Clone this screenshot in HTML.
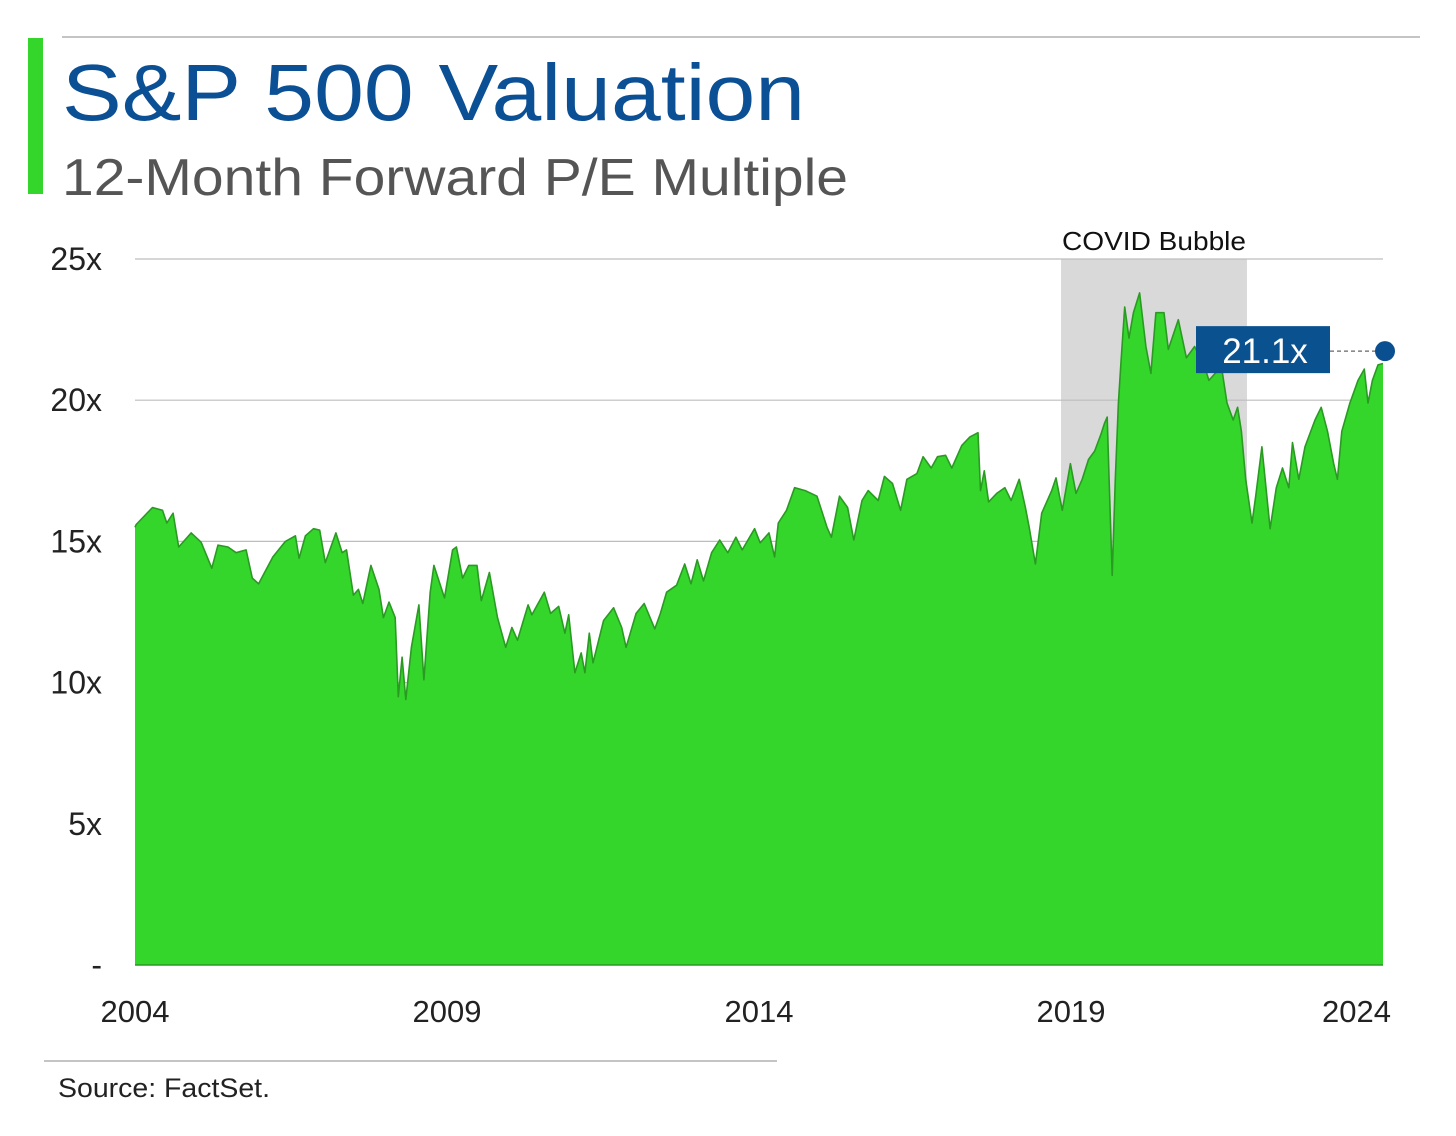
<!DOCTYPE html>
<html><head><meta charset="utf-8"><style>
html,body{margin:0;padding:0;background:#fff;}
svg{display:block;font-family:"Liberation Sans",sans-serif;}
</style></head><body>
<svg id="chart" width="1456" height="1136" viewBox="0 0 1456 1136">
<rect x="0" y="0" width="1456" height="1136" fill="#fff"/>
<line x1="62" y1="37" x2="1420" y2="37" stroke="#b0b0b0" stroke-width="1.5"/>
<rect x="28" y="38" width="15" height="156" fill="#34d62c"/>
<text x="62" y="120" font-size="80" fill="#0b4f94" textLength="743" lengthAdjust="spacingAndGlyphs">S&amp;P 500 Valuation</text>
<text x="62" y="195" font-size="52" fill="#555" textLength="786" lengthAdjust="spacingAndGlyphs">12-Month Forward P/E Multiple</text>
<g id="shade"></g>
<g id="grid"></g>
<g id="area"></g>
<g id="yaxis"></g>
<g id="xaxis"></g>
<g id="callout"></g>
<line x1="44" y1="1061" x2="777" y2="1061" stroke="#b0b0b0" stroke-width="1.5"/>
<text x="58" y="1097" font-size="27" fill="#222" textLength="212" lengthAdjust="spacingAndGlyphs">Source: FactSet.</text>
</svg>
<script>
const yTicks = [0, 5, 10, 15, 20, 25];
const yTickLabels = ["-", "5x", "10x", "15x", "20x", "25x"];
const xTicks = [2004, 2009, 2014, 2019, 2024];
const xTickLabels = ["2004", "2009", "2014", "2019", "2024"];
const shadeRange = [2018.84, 2021.82];
const shadeLabel = "COVID Bubble";
const latestValue = 21.1;
const latestLabel = "21.1x";
const dates = [2004.0,2004.02,2004.28,2004.44,2004.51,2004.61,2004.70,2004.90,2005.06,2005.23,2005.33,2005.49,2005.62,2005.78,2005.88,2005.98,2006.21,2006.41,2006.57,2006.63,2006.73,2006.86,2006.96,2007.05,2007.22,2007.32,2007.39,2007.50,2007.58,2007.65,2007.78,2007.91,2007.98,2008.07,2008.17,2008.22,2008.28,2008.34,2008.43,2008.55,2008.63,2008.73,2008.79,2008.96,2009.09,2009.15,2009.25,2009.35,2009.48,2009.55,2009.68,2009.81,2009.94,2010.04,2010.13,2010.30,2010.36,2010.56,2010.66,2010.79,2010.89,2010.95,2011.05,2011.15,2011.21,2011.28,2011.34,2011.51,2011.67,2011.80,2011.87,2012.03,2012.16,2012.33,2012.42,2012.52,2012.68,2012.81,2012.91,2013.01,2013.11,2013.24,2013.37,2013.50,2013.63,2013.73,2013.93,2014.02,2014.16,2014.25,2014.31,2014.44,2014.57,2014.74,2014.93,2015.09,2015.16,2015.29,2015.42,2015.52,2015.65,2015.75,2015.91,2016.01,2016.14,2016.27,2016.37,2016.53,2016.63,2016.76,2016.86,2016.99,2017.09,2017.25,2017.38,2017.51,2017.55,2017.61,2017.68,2017.81,2017.94,2018.04,2018.17,2018.27,2018.33,2018.43,2018.53,2018.69,2018.76,2018.86,2018.99,2019.08,2019.18,2019.28,2019.38,2019.48,2019.54,2019.58,2019.61,2019.66,2019.71,2019.76,2019.80,2019.86,2019.93,2020.00,2020.10,2020.20,2020.28,2020.36,2020.49,2020.56,2020.72,2020.85,2020.98,2021.14,2021.21,2021.41,2021.50,2021.60,2021.67,2021.73,2021.80,2021.90,2021.96,2022.06,2022.19,2022.29,2022.39,2022.49,2022.55,2022.65,2022.75,2022.91,2023.01,2023.11,2023.21,2023.27,2023.34,2023.47,2023.60,2023.70,2023.76,2023.83,2023.92,2024.0];
const values = [15.5,15.6,16.2,16.1,15.65,16.0,14.8,15.3,14.97,14.05,14.87,14.8,14.6,14.7,13.7,13.5,14.45,15.0,15.2,14.4,15.2,15.45,15.4,14.25,15.3,14.6,14.7,13.1,13.3,12.8,14.15,13.3,12.3,12.85,12.3,9.5,10.9,9.4,11.25,12.75,10.1,13.2,14.15,13.0,14.7,14.8,13.7,14.15,14.15,12.9,13.9,12.3,11.25,11.95,11.5,12.75,12.4,13.2,12.45,12.7,11.75,12.4,10.35,11.05,10.35,11.75,10.7,12.2,12.65,11.95,11.25,12.45,12.8,11.9,12.45,13.2,13.45,14.2,13.5,14.35,13.6,14.6,15.05,14.6,15.15,14.7,15.45,14.95,15.3,14.45,15.65,16.1,16.9,16.8,16.6,15.5,15.15,16.6,16.2,15.05,16.45,16.8,16.45,17.3,17.05,16.1,17.2,17.4,18.0,17.6,18.0,18.05,17.6,18.4,18.7,18.85,16.8,17.5,16.4,16.7,16.9,16.45,17.2,16.2,15.5,14.2,16.0,16.8,17.25,16.1,17.75,16.7,17.2,17.9,18.2,18.8,19.2,19.4,17.2,13.8,17.2,19.9,21.3,23.3,22.2,23.1,23.8,21.9,20.95,23.1,23.1,21.8,22.85,21.5,21.9,21.2,20.7,21.2,19.9,19.3,19.75,18.9,17.2,15.65,16.6,18.35,15.45,16.9,17.6,16.9,18.5,17.2,18.35,19.3,19.75,18.9,17.75,17.2,18.9,19.9,20.7,21.1,19.9,20.7,21.25,21.3];

const NS = "http://www.w3.org/2000/svg";
const X0 = 135, X1 = 1383, Y0 = 965, Y1 = 259;
const xScale = t => X0 + (t - 2004) / 20 * (X1 - X0);
const yScale = v => Y0 - v / 25 * (Y0 - Y1);
function mk(tag, attrs, parent) {
  const el = document.createElementNS(NS, tag);
  for (const k in attrs) el.setAttribute(k, attrs[k]);
  parent.appendChild(el);
  return el;
}
const gShade = document.getElementById('shade');
const gGrid = document.getElementById('grid');
const gArea = document.getElementById('area');
const gY = document.getElementById('yaxis');
const gX = document.getElementById('xaxis');
const gC = document.getElementById('callout');

const sx0 = xScale(shadeRange[0]), sx1 = xScale(shadeRange[1]);
const sh = mk('rect', {x: sx0, y: Y1, width: sx1 - sx0, height: Y0 - Y1, fill: '#d9d9d9'}, gShade);


const st = mk('text', {x: sx0 + 1, y: 250, 'font-size': 26, fill: '#111', textLength: 184, lengthAdjust: 'spacingAndGlyphs'}, gShade);
st.textContent = shadeLabel;



yTicks.forEach((v, i) => {
  const y = yScale(v);
  if (v > 0) {
    const gl = mk('line', {x1: X0, x2: X1, y1: y, y2: y, stroke: '#bdbdbd', 'stroke-width': 1.2}, gGrid);
    
    
  }
  const t = mk('text', {x: 102, y: y + 11, 'font-size': 32, fill: '#222', 'text-anchor': 'end'}, gY);
  t.textContent = yTickLabels[i];
  
  
});

let d = 'M' + xScale(dates[0]) + ',' + Y0;
let ld = '';
dates.forEach((t, i) => {
  d += ' L' + xScale(t).toFixed(1) + ',' + yScale(values[i]).toFixed(1);
  ld += (i ? ' L' : 'M') + xScale(t).toFixed(1) + ',' + yScale(values[i]).toFixed(1);
});
d += ' L' + xScale(dates[dates.length - 1]) + ',' + Y0 + ' Z';
const area = mk('path', {d: d, fill: '#34d62c'}, gArea);


const line = mk('path', {d: ld, fill: 'none', stroke: '#2a9a22', 'stroke-width': 1.6, 'stroke-linejoin': 'round'}, gArea);


const base = mk('line', {x1: X0, x2: X1, y1: Y0, y2: Y0, stroke: '#2a9a22', 'stroke-width': 1.5}, gArea);



xTicks.forEach((t, i) => {
  let x = xScale(t);
  let anchor = 'middle';
  if (i === xTicks.length - 1) { x = 1391; anchor = 'end'; }
  const tx = mk('text', {x: x, y: 1022, 'font-size': 31, fill: '#222', 'text-anchor': anchor}, gX);
  tx.textContent = xTickLabels[i];
  
  
});

const dotX = xScale(dates[dates.length - 1]) + 2;
const dotY = yScale(latestValue) - 18;
const dl = mk('line', {x1: 1330, x2: dotX, y1: dotY, y2: dotY, stroke: '#666', 'stroke-width': 1.3, 'stroke-dasharray': '4,3'}, gC);


const box = mk('rect', {x: 1196, y: dotY - 25, width: 134, height: 47, fill: '#0a5190'}, gC);


const bt = mk('text', {x: 1265, y: dotY + 12, 'font-size': 35, fill: '#fff', 'text-anchor': 'middle'}, gC);
bt.textContent = latestLabel;


const dot = mk('circle', {cx: dotX, cy: dotY, r: 10, fill: '#0a4f8f'}, gC);


</script>
</body></html>
